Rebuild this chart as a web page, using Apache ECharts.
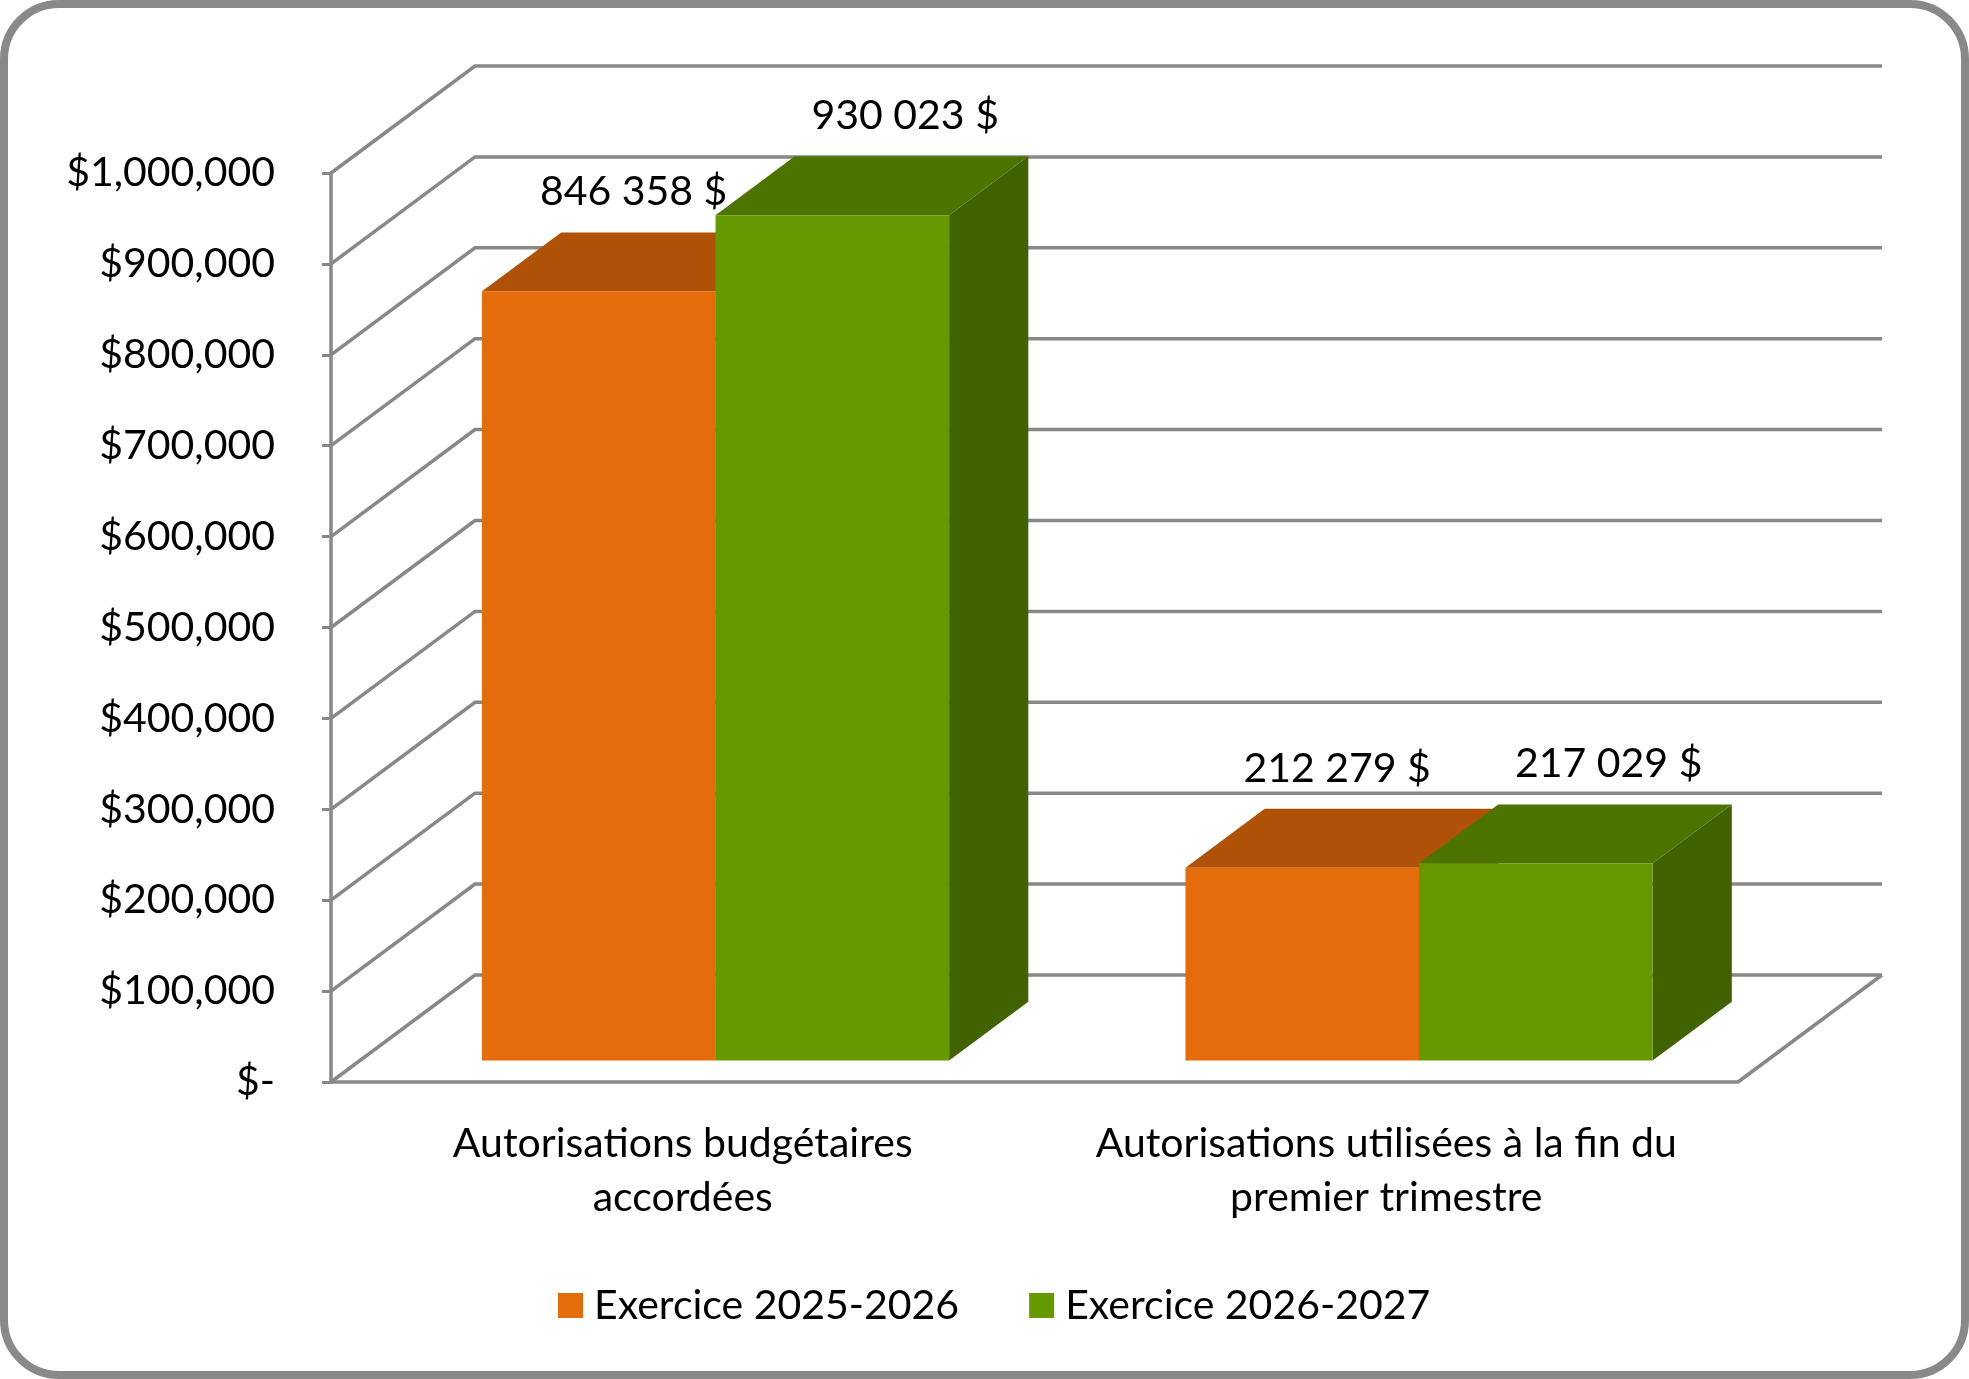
<!DOCTYPE html>
<html>
<head>
<meta charset="utf-8">
<title>Autorisations budgétaires</title>
<script src="https://cdn.jsdelivr.net/npm/echarts@6/dist/echarts.min.js"></script>
<style>
    html, body { margin: 0; padding: 0; background: #fff; }
    #chart { width: 1969px; height: 1379px; }
</style>
</head>
<body>
<div id="chart"></div>
<script>
// données
var categories = ['Autorisations budgétaires\naccordées', 'Autorisations utilisées à la fin du\npremier trimestre'];
var seriesNames = ['Exercice 2025-2026', 'Exercice 2026-2027'];
var values2025 = [846358, 212279];
var values2026 = [930023, 217029];
var yTicks = [0, 100000, 200000, 300000, 400000, 500000, 600000, 700000, 800000, 900000, 1000000];

var FONT = 'Lato';
var FONT_SIZE = 41;
var GRID_COLOR = '#888888';
// projection 3D (profondeur du mur du fond en pixels)
var DX = 144, DY = 107;
var D0 = 0.2, DD = 0.55;   // début et épaisseur des barres en profondeur
var BAR_RATIO = 0.332;      // largeur d'une barre / largeur de catégorie

var fmtLabel = function (v) {
    return String(v).replace(/\B(?=(\d{3})+(?!\d))/g, ' ') + ' $';
};
var fmtAxis = function (v) {
    if (v === 0) { return '$-'; }
    return '$' + String(v).replace(/\B(?=(\d{3})+(?!\d))/g, ',');
};

// murs et lignes de quadrillage en perspective
var renderGrid = function (params, api) {
    var p = api.coord([0, api.value(1)]);
    var band = api.size([1, 0])[0];
    var xl = p[0] - band / 2;
    var xr = xl + band * categories.length;
    var y = p[1];
    var children = [{
        type: 'polyline',
        shape: { points: [[xl, y], [xl + DX, y - DY], [xr + DX, y - DY]] },
        style: { stroke: GRID_COLOR, lineWidth: 3.5, fill: null }
    }];
    if (api.value(1) === 0) {
        children.push({
            type: 'line',
            shape: { x1: xr, y1: y, x2: xr + DX, y2: y - DY },
            style: { stroke: GRID_COLOR, lineWidth: 3.5 }
        });
    }
    return { type: 'group', children: children };
};

var makeBar = function (side, front, topc, sidec, labelShift) {
    return function (params, api) {
        var cat = api.value(0), val = api.value(1);
        var base = api.coord([cat, 0]);
        var top = api.coord([cat, val]);
        var band = api.size([1, 0])[0];
        var w = band * BAR_RATIO;
        var dx = DX * DD, dy = DY * DD;
        var x0 = base[0] + (side === 0 ? -w : 0) + DX * D0 + 4;
        var x1 = x0 + w;
        var yb = base[1] - DY * D0;
        var yt = top[1] - DY * D0;
        return {
            type: 'group',
            children: [{
                type: 'polygon',
                shape: { points: [[x1, yt], [x1 + dx, yt - dy], [x1 + dx, yb - dy], [x1, yb]] },
                style: { fill: sidec }
            }, {
                type: 'polygon',
                shape: { points: [[x0, yt], [x0 + dx, yt - dy], [x1 + dx, yt - dy], [x1, yt]] },
                style: { fill: topc }
            }, {
                type: 'rect',
                shape: { x: x0, y: yt, width: w, height: yb - yt },
                style: { fill: front }
            }, {
                type: 'text',
                style: {
                    x: x0 + w / 2 + dx * labelShift,
                    y: yt - dy - 20,
                    text: fmtLabel(val),
                    fill: '#000',
                    font: FONT_SIZE + 'px ' + FONT,
                    align: 'center',
                    verticalAlign: 'bottom'
                }
            }]
        };
    };
};

var toData = function (ary) {
    var out = [];
    for (var i = 0; i < ary.length; i++) {
        out.push([i, ary[i]]);
    }
    return out;
};

var myChart = echarts.init(document.getElementById('chart'));
var option = {
    backgroundColor: '#fff',
    animation: false,
    textStyle: { fontFamily: FONT },
    graphic: [{
        type: 'rect',
        shape: { x: 4, y: 4, width: 1961, height: 1371, r: 55 },
        style: { fill: null, stroke: '#898989', lineWidth: 8 },
        z: 100
    }],
    grid: { left: 331, top: 173, right: 231, bottom: 297 },
    legend: {
        data: seriesNames,
        left: 553,
        top: 1280,
        icon: 'rect',
        itemWidth: 25,
        itemHeight: 25,
        itemGap: 70,
        textStyle: { fontSize: FONT_SIZE, color: '#000', fontFamily: FONT, padding: [0, 0, 0, 6] }
    },
    xAxis: {
        type: 'category',
        data: categories,
        axisLine: { lineStyle: { color: GRID_COLOR, width: 3.5 } },
        axisTick: { length: 13, lineStyle: { color: GRID_COLOR, width: 3 } },
        axisLabel: { interval: 0, fontSize: FONT_SIZE, color: '#000', lineHeight: 54, margin: 35, fontFamily: FONT },
        splitLine: { show: false }
    },
    yAxis: {
        type: 'value',
        min: 0,
        max: 1000000,
        interval: 100000,
        axisLine: { show: true, lineStyle: { color: GRID_COLOR, width: 3.5 } },
        axisTick: { show: true, length: 9, lineStyle: { color: GRID_COLOR, width: 3 } },
        axisLabel: { fontSize: FONT_SIZE, color: '#000', margin: 56, formatter: fmtAxis, fontFamily: FONT },
        splitLine: { show: false }
    },
    series: [{
        type: 'custom',
        name: 'grille',
        silent: true,
        clip: false,
        z: 1,
        renderItem: renderGrid,
        data: yTicks.map(function (v) { return [0, v]; })
    }, {
        type: 'custom',
        name: seriesNames[0],
        clip: false,
        z: 2,
        itemStyle: { color: '#E46C0A' },
        renderItem: makeBar(0, '#E46C0A', '#AF5207', '#8F4306', 0.44),
        data: toData(values2025)
    }, {
        type: 'custom',
        name: seriesNames[1],
        clip: false,
        z: 3,
        itemStyle: { color: '#669900' },
        renderItem: makeBar(1, '#669900', '#4D7300', '#406300', 0.92),
        data: toData(values2026)
    }]
};
myChart.setOption(option);
</script>
</body>
</html>
